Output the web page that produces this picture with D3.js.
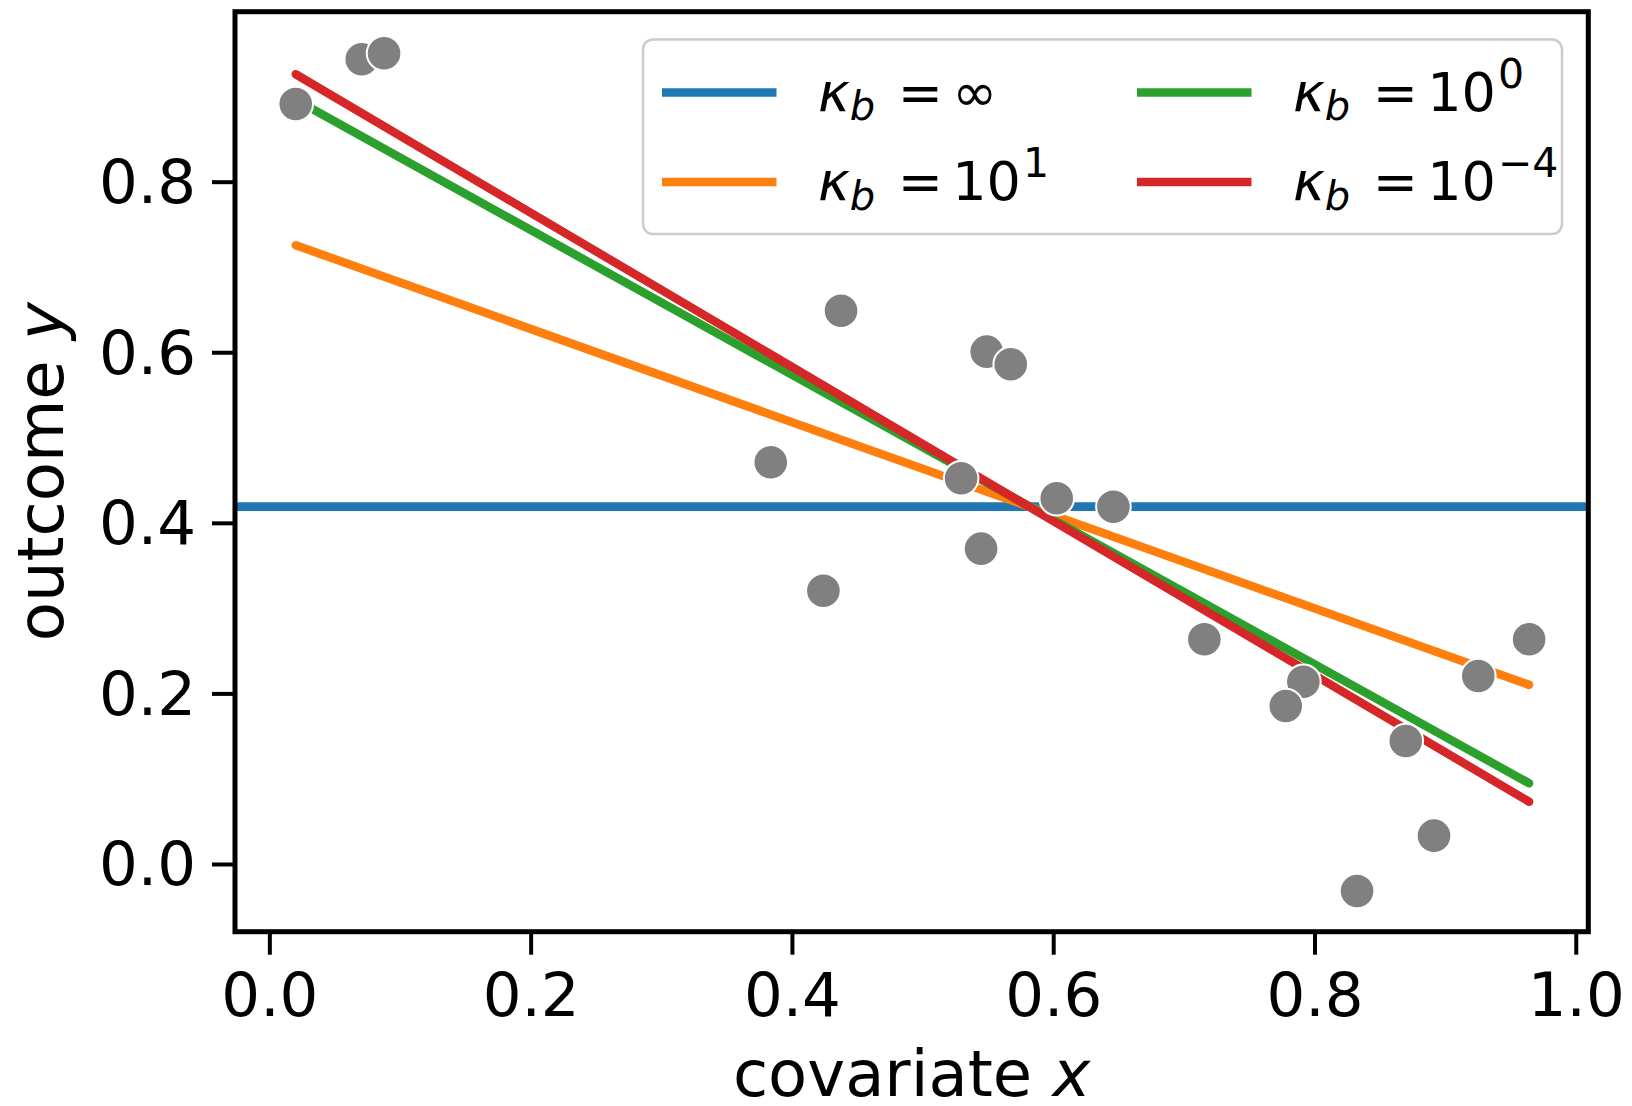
<!DOCTYPE html>
<meta charset="utf-8">
<script src="https://d3js.org/d3.v7.min.js"></script>
<style>
  body { margin: 0; background: #fff; }
  text { font-family: "DejaVu Sans", sans-serif; fill: #000; }
  .tick text { font-size: 61px; }
  .axis-label { font-size: 64px; }
  .legend-label { font-size: 54px; }
</style>
<div id="my_dataviz"></div>
<script>

// scatter points (covariate x, outcome y)
var pointX = [0.0202, 0.0707, 0.0878, 0.3838, 0.4376, 0.4241, 0.5295, 0.5491, 0.5675, 0.5448,
              0.6027, 0.6461, 0.7157, 0.7915, 0.7780, 0.8699, 0.9254, 0.9643, 0.8915, 0.8326];
var pointY = [0.891, 0.9435, 0.9505, 0.471, 0.6487, 0.3204, 0.4522, 0.6007, 0.5859, 0.3697,
              0.4288, 0.4189, 0.2635, 0.2137, 0.1853, 0.1442, 0.2204, 0.2635, 0.0332, -0.0317];

// axis limits and ticks
var xDomain = [-0.0263, 1.0096];
var yDomain = [-0.0794, 0.9993];
var xTicks = [0, 0.2, 0.4, 0.6, 0.8, 1.0];
var yTicks = [0, 0.2, 0.4, 0.6, 0.8];

// fitted lines, one per kappa_b (inf, 10^1, 10^0, 10^-4)
var seriesExponent = [null, "1", "0", "\u22124"];
var seriesColors = ["#1f77b4", "#ff7f0e", "#2ca02c", "#d62728"];
var fitX = [xDomain, [0.0202, 0.9643], [0.0202, 0.9643], [0.0202, 0.9643]];
var fitY = [[0.419, 0.419], [0.7255, 0.210], [0.896, 0.0946], [0.926, 0.073]];

// set the dimensions and margins of the graph
var margin = {top: 11.7, right: 43.7, bottom: 174.3, left: 235},
    width = 1632 - margin.left - margin.right,
    height = 1106 - margin.top - margin.bottom;

var svg = d3.select("#my_dataviz")
  .append("svg")
    .attr("width", 1632)
    .attr("height", 1106)
  .append("g")
    .attr("transform", "translate(" + margin.left + "," + margin.top + ")");

var x = d3.scaleLinear().domain(xDomain).range([0, width]);
var y = d3.scaleLinear().domain(yDomain).range([height, 0]);

svg.append("clipPath").attr("id", "clip")
  .append("rect").attr("width", width).attr("height", height);

// fitted lines
var line = d3.line()
  .x(function(d) { return x(d[0]); })
  .y(function(d) { return y(d[1]); });

svg.append("g").attr("clip-path", "url(#clip)")
  .selectAll("path")
  .data(fitX.map(function(xs, i) { return {i: i, pts: d3.zip(xs, fitY[i])}; }))
  .enter()
  .append("path")
    .attr("d", function(d) { return line(d.pts); })
    .attr("fill", "none")
    .attr("stroke", function(d) { return seriesColors[d.i]; })
    .attr("stroke-width", 8.5)
    .attr("stroke-linecap", function(d) { return d.i == 0 ? "butt" : "round"; });

// points
svg.append("g")
  .selectAll("circle")
  .data(d3.zip(pointX, pointY))
  .enter()
  .append("circle")
    .attr("cx", function(d) { return x(d[0]); })
    .attr("cy", function(d) { return y(d[1]); })
    .attr("r", 17.3)
    .attr("fill", "#808080")
    .attr("stroke", "#ffffff")
    .attr("stroke-width", 2);

// X axis
var xAxis = svg.append("g")
  .attr("transform", "translate(0," + height + ")")
  .call(d3.axisBottom(x).tickValues(xTicks).tickFormat(d3.format(".1f")).tickSize(23).tickPadding(18));
xAxis.attr("font-size", null).attr("font-family", null);
xAxis.select(".domain").remove();
xAxis.selectAll(".tick line").attr("stroke", "#000").attr("stroke-width", 4);

// Y axis
var yAxis = svg.append("g")
  .call(d3.axisLeft(y).tickValues(yTicks).tickFormat(d3.format(".1f")).tickSize(23).tickPadding(16));
yAxis.attr("font-size", null).attr("font-family", null);
yAxis.select(".domain").remove();
yAxis.selectAll(".tick line").attr("stroke", "#000").attr("stroke-width", 4);
yAxis.selectAll(".tick text").attr("dy", "0.34em");

// frame
svg.append("rect")
  .attr("width", width)
  .attr("height", height)
  .attr("fill", "none")
  .attr("stroke", "#000")
  .attr("stroke-width", 5);

// axis labels
var xl = svg.append("text")
  .attr("class", "axis-label")
  .attr("x", width / 2)
  .attr("y", height + 164)
  .attr("text-anchor", "middle");
xl.append("tspan").text("covariate ");
xl.append("tspan").attr("font-style", "italic").text("x");

var yl = svg.append("text")
  .attr("class", "axis-label")
  .attr("transform", "translate(" + (63 - margin.left) + "," + (height / 2) + ") rotate(-90)")
  .attr("text-anchor", "middle");
yl.append("tspan").text("outcome ");
yl.append("tspan").attr("font-style", "italic").text("y");

// legend
var fs = 54;
var legend = svg.append("g")
  .attr("transform", "translate(" + (643 - margin.left) + "," + (39.5 - margin.top) + ")");

legend.append("rect")
  .attr("width", 919)
  .attr("height", 194.5)
  .attr("rx", 10)
  .attr("fill", "#ffffff")
  .attr("fill-opacity", 0.8)
  .attr("stroke", "#cccccc")
  .attr("stroke-width", 2.5);

var entries = legend.selectAll(".entry")
  .data(seriesColors.map(function(c, i) { return i; }))
  .enter()
  .append("g")
    .attr("class", "entry")
    .attr("transform", function(i) {
      return "translate(" + (Math.floor(i / 2) * 475) + "," + ((i % 2) * 89.4) + ")";
    });

entries.append("line")
  .attr("x1", 19).attr("x2", 133.5)
  .attr("y1", 53).attr("y2", 53)
  .attr("stroke", function(i) { return seriesColors[i]; })
  .attr("stroke-width", 8.5);

entries.each(function(i) {
  var t = d3.select(this).append("text")
    .attr("class", "legend-label")
    .attr("x", 175)
    .attr("y", 71);
  t.append("tspan").attr("font-style", "italic").text("\u03ba");
  t.append("tspan").attr("font-style", "italic").attr("font-size", fs * 0.74).attr("dy", fs * 0.18).text("b");
  t.append("tspan").attr("dy", -fs * 0.18).attr("dx", fs * 0.1).text(" =");
  if (seriesExponent[i] === null) {
    t.append("tspan").attr("dx", fs * 0.17).text("\u221e");
  } else {
    t.append("tspan").attr("dx", fs * 0.17).text("10");
    t.append("tspan").attr("font-size", fs * 0.76).attr("dx", 2).attr("dy", -fs * 0.42).text(seriesExponent[i]);
  }
});

</script>
